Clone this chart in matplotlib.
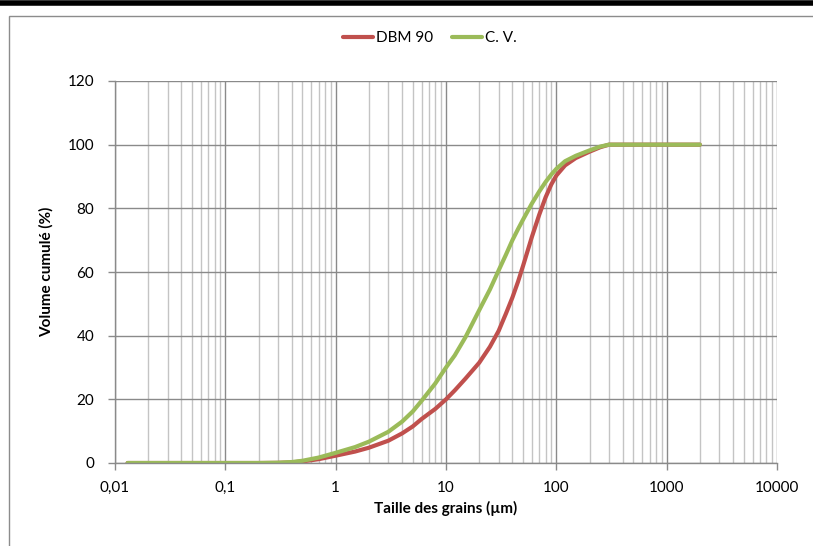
import matplotlib
matplotlib.use("Agg")
import matplotlib.pyplot as plt
from matplotlib.ticker import LogLocator, FixedLocator, FuncFormatter, NullFormatter
from matplotlib.patches import Rectangle
from matplotlib.lines import Line2D

sizes = [0.013, 0.02, 0.05, 0.1, 0.2, 0.3, 0.4, 0.5, 0.7, 1, 1.5, 2, 3, 4, 5, 6, 8, 10,
         12, 15, 20, 25, 30, 35, 40, 45, 50, 60, 70, 80, 90, 100, 120, 150, 200, 250, 300,
         500, 1000, 2000]
dbm90 = [0, 0, 0, 0, 0, 0.05, 0.2, 0.5, 1.2, 2.3, 3.6, 4.8, 7.0, 9.3, 11.5, 13.8, 17, 20,
         22.8, 26.5, 31.5, 36.5, 41.5, 47, 52, 57, 62, 71, 78, 83.5, 87.5, 90.3, 93.5, 95.8,
         97.8, 99.2, 100, 100, 100, 100]
cv = [0, 0, 0, 0, 0, 0.08, 0.3, 0.7, 1.7, 3.2, 5.0, 6.7, 9.8, 13, 16.2, 19.5, 25, 30,
      33.8, 39.5, 48, 54.5, 60.5, 65.5, 70, 73.5, 76.5, 81.5, 85.3, 88.3, 90.6, 92.4,
      94.8, 96.5, 98.2, 99.4, 100, 100, 100, 100]
series_names = ["DBM 90", "C. V."]
x_ticks = [0.01, 0.1, 1, 10, 100, 1000, 10000]
x_labels = ["0,01", "0,1", "1", "10", "100", "1000", "10000"]
y_ticks = [0, 20, 40, 60, 80, 100, 120]

plt.rcParams['font.family'] = ['Lato', 'DejaVu Sans']

W, H = 813, 546
fig = plt.figure(figsize=(W / 100, H / 100), dpi=100)

# outer frame and top black band
fig.patches.append(Rectangle((9 / W, -0.02), 1.0, 1 - 15.5 / H + 0.02, transform=fig.transFigure,
                             fill=False, edgecolor="#8c8c8c", linewidth=1.0))
fig.lines.append(Line2D([0, 1], [1 - 2.5 / H, 1 - 2.5 / H], transform=fig.transFigure,
                        color="black", linewidth=4))

ax = fig.add_axes([115 / W, 1 - 463 / H, (777 - 115) / W, (463 - 81) / H])
ax.set_xscale("log")
ax.set_xlim(0.01, 10000)
ax.set_ylim(0, 120)

ax.xaxis.set_major_locator(FixedLocator(x_ticks))
ax.xaxis.set_major_formatter(FuncFormatter(lambda v, p: x_labels[x_ticks.index(v)] if v in x_ticks else ""))
ax.xaxis.set_minor_locator(LogLocator(base=10, subs=range(2, 10), numticks=100))
ax.xaxis.set_minor_formatter(NullFormatter())
ax.yaxis.set_major_locator(FixedLocator(y_ticks))

ax.grid(which="major", axis="both", color="#8a8a8a", linewidth=1.0)
ax.grid(which="minor", axis="x", color="#c4c4c4", linewidth=1.0)
ax.set_axisbelow(True)

for s in ["top", "right"]:
    ax.spines[s].set_visible(False)
for s in ["left", "bottom"]:
    ax.spines[s].set_color("#8a8a8a")
    ax.spines[s].set_linewidth(1.0)

ax.tick_params(axis="both", which="major", direction="out", length=5, color="#8a8a8a",
               labelsize=11, labelcolor="black", width=1.0)
ax.tick_params(axis="x", which="minor", length=0)
ax.tick_params(axis="x", pad=8)
ax.tick_params(axis="y", pad=10)

ax.plot(sizes, dbm90, color="#C0504D", linewidth=3, label=series_names[0],
        solid_capstyle="round", solid_joinstyle="round")
ax.plot(sizes, cv, color="#9BBB59", linewidth=3, label=series_names[1],
        solid_capstyle="round", solid_joinstyle="round")

ax.set_xlabel("Taille des grains (µm)", fontsize=11, fontweight="bold", labelpad=4)
ax.set_ylabel("Volume cumulé (%)", fontsize=11, fontweight="bold", labelpad=10)

fig.legend(loc="center", bbox_to_anchor=(430 / W, 1 - 38 / H), ncol=2, frameon=False,
           fontsize=11, handlelength=2.0, handletextpad=0.2, columnspacing=1.2)

fig.savefig("out.png", dpi=100)
